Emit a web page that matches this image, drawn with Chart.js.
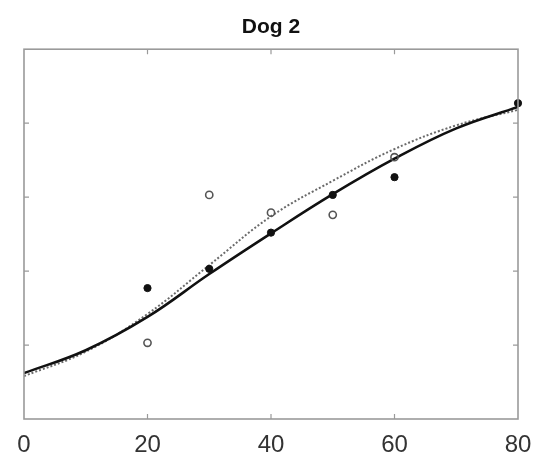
<!DOCTYPE html>
<html>
<head>
<meta charset="utf-8">
<script src="https://cdn.jsdelivr.net/npm/chart.js@4/dist/chart.umd.min.js"></script>
<style>
  html, body { margin: 0; padding: 0; background: #fff; }
  #wrap { width: 534px; height: 460px; }
</style>
</head>
<body>
<div id="wrap"><canvas id="c" width="534" height="460"></canvas></div>
<script>
// ---- data ----
const chartTitle = 'Dog 2';
const xTickValues = [0, 20, 40, 60, 80];
const obsX = [20, 30, 40, 50, 60, 80];
const filledY = [1.77, 2.03, 2.52, 3.03, 3.27, 4.27];
const openX = [20, 30, 40, 50, 60];
const openY = [1.03, 3.03, 2.79, 2.76, 3.54];
const fitX = [0, 10, 20, 30, 40, 50, 60, 70, 80];
const solidFitY = [0.62, 0.93, 1.38, 1.96, 2.51, 3.04, 3.52, 3.93, 4.22];
const dottedFitY = [0.58, 0.91, 1.42, 2.08, 2.74, 3.22, 3.65, 3.97, 4.18];

const pts = (xs, ys) => xs.map((x, i) => ({ x: x, y: ys[i] }));

const framePlugin = {
  id: 'frame',
  afterDatasetsDraw(chart) {
    const { ctx, chartArea: a, scales } = chart;
    ctx.save();
    ctx.strokeStyle = '#9a9a9a';
    ctx.lineWidth = 1.6;
    ctx.strokeRect(a.left, a.top, a.right - a.left, a.bottom - a.top);
    ctx.lineWidth = 1.2;
    const tl = 5;
    xTickValues.slice(1, -1).forEach(v => {
      const px = scales.x.getPixelForValue(v);
      ctx.beginPath();
      ctx.moveTo(px, a.bottom); ctx.lineTo(px, a.bottom - tl);
      ctx.moveTo(px, a.top); ctx.lineTo(px, a.top + tl);
      ctx.stroke();
    });
    [1, 2, 3, 4].forEach(v => {
      const py = scales.y.getPixelForValue(v);
      ctx.beginPath();
      ctx.moveTo(a.left, py); ctx.lineTo(a.left + tl, py);
      ctx.moveTo(a.right, py); ctx.lineTo(a.right - tl, py);
      ctx.stroke();
    });
    ctx.restore();
  }
};

new Chart(document.getElementById('c'), {
  type: 'scatter',
  data: {
    datasets: [
      {
        label: 'filled',
        data: pts(obsX, filledY),
        pointRadius: 3.6,
        pointBackgroundColor: '#111',
        pointBorderColor: '#111',
        pointBorderWidth: 1,
        showLine: false,
        clip: false,
        order: 0
      },
      {
        label: 'open',
        data: pts(openX, openY),
        pointRadius: 3.6,
        pointBackgroundColor: 'rgba(255,255,255,0)',
        pointBorderColor: '#555',
        pointBorderWidth: 1.6,
        showLine: false,
        clip: false,
        order: 0
      },
      {
        label: 'fit solid',
        data: pts(fitX, solidFitY),
        showLine: true,
        borderColor: '#111',
        borderWidth: 2.6,
        pointRadius: 0,
        tension: 0.4,
        fill: false,
        order: 1
      },
      {
        label: 'fit dotted',
        data: pts(fitX, dottedFitY),
        showLine: true,
        borderColor: '#6a6a6a',
        borderWidth: 2,
        borderDash: [2, 2],
        pointRadius: 0,
        tension: 0.4,
        fill: false,
        order: 2
      }
    ]
  },
  options: {
    responsive: false,
    animation: false,
    devicePixelRatio: 1,
    layout: { padding: { left: 24, right: 16, top: 0, bottom: 0 } },
    plugins: {
      legend: { display: false },
      tooltip: { enabled: false },
      title: {
        display: true,
        text: chartTitle,
        color: '#111',
        font: { family: '"Liberation Sans", Arial, sans-serif', size: 21, weight: 'bold' },
        padding: { top: 15, bottom: 9 }
      }
    },
    scales: {
      x: {
        type: 'linear',
        min: 0, max: 80,
        afterBuildTicks: s => { s.ticks = xTickValues.map(v => ({ value: v })); },
        afterFit: s => { s.height = 41; s.paddingLeft = 0; s.paddingRight = 0; },
        ticks: {
          color: '#333',
          padding: 12,
          maxRotation: 0,
          font: { family: '"Liberation Sans", Arial, sans-serif', size: 24 }
        },
        grid: { display: false, drawTicks: false },
        border: { display: false }
      },
      y: {
        type: 'linear',
        min: 0, max: 5,
        afterFit: s => { s.width = 0; },
        ticks: { display: false },
        grid: { display: false, drawTicks: false },
        border: { display: false }
      }
    }
  },
  plugins: [framePlugin]
});
</script>
</body>
</html>
